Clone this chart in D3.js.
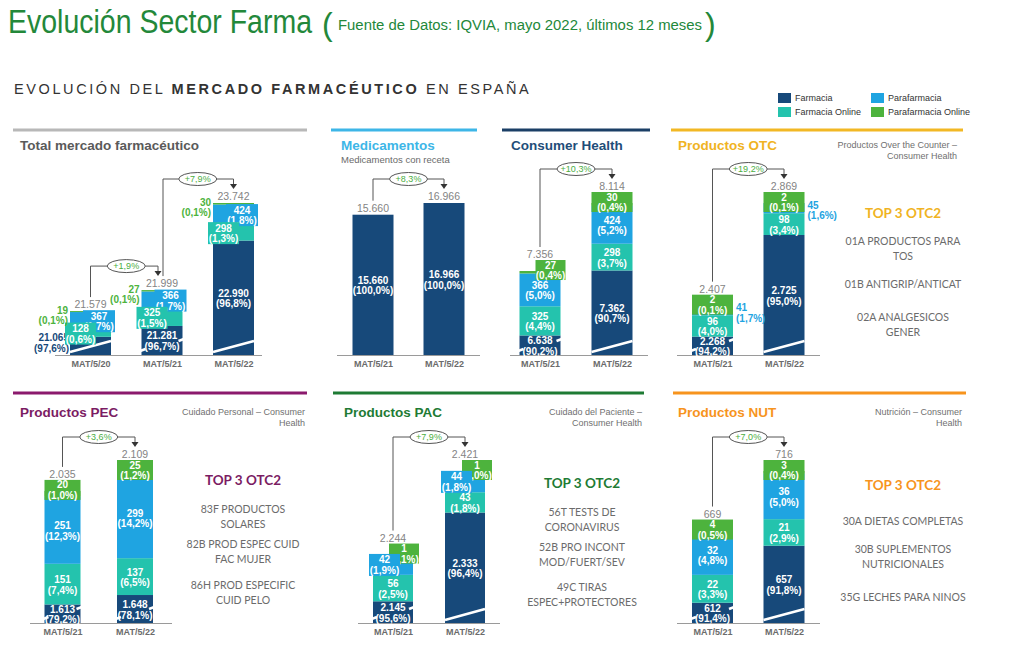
<!DOCTYPE html>
<html><head><meta charset="utf-8">
<script src="https://cdn.jsdelivr.net/npm/d3@7"></script>
<style>
body{margin:0;background:#fff;}
svg{display:block;font-family:"Liberation Sans",Arial,sans-serif;}
</style></head><body><svg id="c" width="1024" height="648"></svg>
<script>
// ---------------- DATA ----------------
const seriesNames = ["Farmacia","Farmacia Online","Parafarmacia","Parafarmacia Online"];

const totalPeriods = ["MAT/5/20","MAT/5/21","MAT/5/22"];
const totalValues = [[21065,21281,22990],[128,325,298],[367,366,424],[19,27,30]];
const totalPcts = [[97.6,96.7,96.8],[0.6,1.5,1.3],[1.7,1.7,1.8],[0.1,0.1,0.1]];
const totalTotals = [21579,21999,23742];
const totalGrowth = ["+1,9%","+7,9%"];

const periods2 = ["MAT/5/21","MAT/5/22"];

const medValues = [[15660,16966],[0,0],[0,0],[0,0]];
const medPcts = [[100.0,100.0],[0,0],[0,0],[0,0]];
const medTotals = [15660,16966];
const medGrowth = ["+8,3%"];

const chValues = [[6638,7362],[325,298],[366,424],[27,30]];
const chPcts = [[90.2,90.7],[4.4,3.7],[5.0,5.2],[0.4,0.4]];
const chTotals = [7356,8114];
const chGrowth = ["+10,3%"];

const otcValues = [[2268,2725],[96,98],[41,45],[2,2]];
const otcPcts = [[94.2,95.0],[4.0,3.4],[1.7,1.6],[0.1,0.1]];
const otcTotals = [2407,2869];
const otcGrowth = ["+19,2%"];

const pecValues = [[1613,1648],[151,137],[251,299],[20,25]];
const pecPcts = [[79.2,78.1],[7.4,6.5],[12.3,14.2],[1.0,1.2]];
const pecTotals = [2035,2109];
const pecGrowth = ["+3,6%"];

const pacValues = [[2145,2333],[56,43],[42,44],[1,1]];
const pacPcts = [[95.6,96.4],[2.5,1.8],[1.9,1.8],[0.1,0.0]];
const pacTotals = [2244,2421];
const pacGrowth = ["+7,9%"];

const nutValues = [[612,657],[22,21],[32,36],[4,3]];
const nutPcts = [[91.4,91.8],[3.3,2.9],[4.8,5.0],[0.5,0.4]];
const nutTotals = [669,716];
const nutGrowth = ["+7,0%"];

// value at which each panel's (broken) axis is cut
const axisBreaks = {total:20700, med:0, ch:6420, otc:2185, pec:1544, pac:2099, nut:596};

const otcTop3 = [["01A PRODUCTOS PARA","TOS"],["01B ANTIGRIP/ANTICAT"],["02A ANALGESICOS","GENER"]];
const pecTop3 = [["83F PRODUCTOS","SOLARES"],["82B PROD ESPEC CUID","FAC MUJER"],["86H PROD ESPECIFIC","CUID PELO"]];
const pacTop3 = [["56T TESTS DE","CORONAVIRUS"],["52B PRO INCONT","MOD/FUERT/SEV"],["49C TIRAS","ESPEC+PROTECTORES"]];
const nutTop3 = [["30A DIETAS COMPLETAS"],["30B SUPLEMENTOS","NUTRICIONALES"],["35G LECHES PARA NINOS"]];

// ---------------- STYLE / LAYOUT ----------------
const seriesColors = ["#17497a","#24c3ad","#1fa4e1","#4db33d"];
const loc = d3.formatLocale({decimal:",", thousands:".", grouping:[3], currency:["","€"]});
const fmtInt = loc.format(",d");
const fmtPct = v => "(" + loc.format(".1f")(v) + "%)";

const panels = [
 {id:"total", title:"Total mercado farmacéutico", periods:totalPeriods, values:totalValues, pcts:totalPcts, totals:totalTotals, growth:totalGrowth,
  cx:[90.5,233.5], base:355, bw:41, axis:[55,262], rule:[13,307,130,"#b8b8b8"], titleXY:[20,145], titleColor:"#5a5a5a",
  modes:["inOrLeft","boxL","boxR","outLeftTop"], boxLdx:-5},
 {id:"med", title:"Medicamentos", periods:periods2, values:medValues, pcts:medPcts, totals:medTotals, growth:medGrowth,
  cx:[373,444], base:355, bw:41, axis:[337,480], rule:[331,477,130,"#3db6e7"], titleXY:[341,145], titleColor:"#3db6e7",
  subLeft:["Medicamentos con receta"], modes:["in","in","in","in"]},
 {id:"ch", title:"Consumer Health", periods:periods2, values:chValues, pcts:chPcts, totals:chTotals, growth:chGrowth,
  cx:[540,612], base:355, bw:41, axis:[510,648], rule:[502,650,130,"#1b3f66"], titleXY:[511,145], titleColor:"#1f4e79",
  modes:["in","in","in","topBox"], topShift:[16,0]},
 {id:"otc", title:"Productos OTC", periods:periods2, values:otcValues, pcts:otcPcts, totals:otcTotals, growth:otcGrowth,
  cx:[712.5,784], base:355, bw:41, axis:[677,820], rule:[671,963,130,"#f2b824"], titleXY:[678,145], titleColor:"#f0b323",
  subRight:["Productos Over the Counter –","Consumer Health"], subXY:[957,145], modes:["in","in","outRight","topBox"], topShift:[0,0]},
 {id:"pec", title:"Productos PEC", periods:periods2, values:pecValues, pcts:pecPcts, totals:pecTotals, growth:pecGrowth,
  cx:[62.5,135], base:623, bw:36, axis:[30,172], rule:[13,307,393,"#8b1a6d"], titleXY:[20,412], titleColor:"#7b1c63",
  subRight:["Cuidado Personal – Consumer","Health"], subXY:[305,412], modes:["in","in","in","topBox"], topShift:[0,0]},
 {id:"pac", title:"Productos PAC", periods:periods2, values:pacValues, pcts:pacPcts, totals:pacTotals, growth:pacGrowth,
  cx:[393,465], base:623, bw:40, axis:[358,500], rule:[333,644,393,"#1e7b34"], titleXY:[344,412], titleColor:"#1e7b34",
  subRight:["Cuidado del Paciente –","Consumer Health"], subXY:[642,412], modes:["in","in","boxL","topBox"], topShift:[16,17], boxLdx:-4},
 {id:"nut", title:"Productos NUT", periods:periods2, values:nutValues, pcts:nutPcts, totals:nutTotals, growth:nutGrowth,
  cx:[712.5,784], base:623, bw:41, axis:[677,820], rule:[673,966,393,"#f7941d"], titleXY:[678,412], titleColor:"#f7941d",
  subRight:["Nutrición – Consumer","Health"], subXY:[962,412], modes:["in","in","in","topBox"], topShift:[0,0]}
];

const top3Lists = [
 {items:otcTop3, cx:903, y:213, color:"#f0b323", ys:[241,284,317]},
 {items:pecTop3, cx:243, y:480, color:"#7b1c63", ys:[509,544,585]},
 {items:pacTop3, cx:582, y:483, color:"#1e7b34", ys:[512,547,587]},
 {items:nutTop3, cx:903, y:485, color:"#f7941d", ys:[521,549,597]}
];

// ---------------- DRAW ----------------
const svg = d3.select("#c");
svg.append("rect").attr("width",1024).attr("height",648).attr("fill","#fff");

const green = "#23883a";
svg.append("text").attr("x",8).attr("y",33).attr("font-size",33).attr("fill",green)
  .attr("textLength",304).attr("lengthAdjust","spacingAndGlyphs").text("Evolución Sector Farma");
svg.append("text").attr("x",322).attr("y",35).attr("font-size",32).attr("fill",green).text("(");
svg.append("text").attr("x",338).attr("y",30).attr("font-size",14).attr("fill",green)
  .attr("textLength",364).attr("lengthAdjust","spacingAndGlyphs").text("Fuente de Datos: IQVIA, mayo 2022, últimos 12 meses");
svg.append("text").attr("x",705).attr("y",35).attr("font-size",32).attr("fill",green).text(")");

const hdr = svg.append("text").attr("x",14).attr("y",89).attr("dominant-baseline","central")
  .attr("font-size",14.5).attr("letter-spacing",2.6).attr("fill","#333");
hdr.append("tspan").text("EVOLUCIÓN DEL ");
hdr.append("tspan").attr("font-weight","bold").text("MERCADO FARMACÉUTICO");
hdr.append("tspan").text(" EN ESPAÑA");

// legend
const legPos = [[778,98],[778,112],[871,98],[871,112]];
seriesNames.forEach((s,k)=>{
  const [lx,ly] = legPos[k];
  svg.append("rect").attr("x",lx).attr("y",ly-5).attr("width",13).attr("height",10).attr("fill",seriesColors[k]);
  svg.append("text").attr("x",lx+17).attr("y",ly).attr("dominant-baseline","central")
    .attr("font-size",9).attr("fill","#333").text(s);
});

const H = 152;
panels.forEach(p=>{
  const g = svg.append("g");
  const bw = p.bw, base = p.base;
  const x = d3.scalePoint().domain(p.periods).range(p.cx);
  const y = d3.scaleLinear().domain([axisBreaks[p.id], d3.max(p.totals)]).range([base, base-H]).clamp(true);
  const rows = p.periods.map((per,i)=>{const r={period:per}; seriesNames.forEach((s,k)=>r[s]=p.values[k][i]); return r;});
  const stacked = d3.stack().keys(seriesNames)(rows);

  // rule + titles
  g.append("line").attr("x1",p.rule[0]).attr("x2",p.rule[1]).attr("y1",p.rule[2]).attr("y2",p.rule[2])
    .attr("stroke",p.rule[3]).attr("stroke-width",3);
  g.append("text").attr("x",p.titleXY[0]).attr("y",p.titleXY[1]).attr("dominant-baseline","central")
    .attr("font-size",13.5).attr("font-weight","bold").attr("fill",p.titleColor).text(p.title);
  if(p.subLeft) g.append("text").attr("x",p.titleXY[0]).attr("y",p.titleXY[1]+14).attr("dominant-baseline","central")
    .attr("font-size",9.5).attr("fill","#6a6a6a").text(p.subLeft[0]);
  if(p.subRight) p.subRight.forEach((t,j)=>g.append("text").attr("x",p.subXY[0]).attr("y",p.subXY[1]+j*11)
    .attr("dominant-baseline","central").attr("text-anchor","end").attr("font-size",9).attr("fill","#707070").text(t));

  // bars
  stacked.forEach((layer,k)=>{
    g.append("g").selectAll("rect").data(layer.filter(d=>d[1]>d[0])).join("rect")
      .attr("x",d=>x(d.data.period)-bw/2).attr("width",bw)
      .attr("y",d=>y(d[1])).attr("height",d=>Math.max(0,y(d[0])-y(d[1])))
      .attr("fill",seriesColors[k]);
  });

  // axis
  g.append("line").attr("x1",p.axis[0]).attr("x2",p.axis[1]).attr("y1",base+0.5).attr("y2",base+0.5)
    .attr("stroke","#9a9a9a").attr("stroke-width",1);
  const ax = g.append("g").attr("transform",`translate(0,${base})`).call(d3.axisBottom(x).tickSize(0).tickPadding(6));
  ax.select(".domain").remove();
  ax.selectAll("text").attr("font-size",9).attr("font-weight","bold").attr("fill","#6b6b6b")
    .attr("font-family","'Liberation Sans',Arial,sans-serif");

  // break marks
  if(axisBreaks[p.id]>0){
    stacked[0].forEach((d,i)=>{
      const cx = x(d.data.period), x0=cx-bw/2, x1=cx+bw/2;
      const h = base - y(d[1]);
      let mode = p.modes[0];
      if(mode==="inOrLeft") mode = h>=24?"in":"outLeft";
      if(mode==="in" && h<32){
        g.append("line").attr("x1",x0-4).attr("y1",base-3).attr("x2",x0+4).attr("y2",base-6)
          .attr("stroke","#fff").attr("stroke-width",2.5);
        g.append("line").attr("x1",x1-4).attr("y1",base-14).attr("x2",x1+4).attr("y2",base-17)
          .attr("stroke","#fff").attr("stroke-width",2.5);
      } else {
        g.append("line").attr("x1",x0).attr("y1",base-3).attr("x2",x1).attr("y2",base-14)
          .attr("stroke","#fff").attr("stroke-width",2.5);
      }
    });
  }

  // labels
  const items = [];
  stacked.forEach((layer,k)=>{
    layer.forEach((d,i)=>{
      const v = p.values[k][i]; if(!v) return;
      const cx = x(d.data.period), x0=cx-bw/2, x1=cx+bw/2;
      const yt=y(d[1]), yb=y(d[0]), mid=(yt+yb)/2, top=y(p.totals[i]);
      const lines=[fmtInt(v), fmtPct(p.pcts[k][i])];
      let mode = p.modes[k];
      if(mode==="inOrLeft") mode = (yb-yt)>=24?"in":"outLeft";
      items.push({mode,k,i,cx,x0,x1,yt,yb,mid,top,lines});
    });
  });
  const order = {in:0,outLeft:1,topBox:2,boxR:3,boxL:4,outRight:5,outLeftTop:6};
  items.sort((a,b)=>order[a.mode]-order[b.mode]);
  const lg = g.append("g").attr("font-weight","bold").attr("font-size",10);
  const twoLines = (cx,cy,lines,fill,anchor)=>{
    lines.forEach((t,j)=>lg.append("text").attr("x",cx).attr("y",cy+(j?5.5:-5)).attr("dominant-baseline","central")
      .attr("text-anchor",anchor||"middle").attr("fill",fill).text(t));
  };
  items.forEach(it=>{
    const col = seriesColors[it.k];
    if(it.mode==="in") twoLines(it.cx,it.mid+0.5,it.lines,"#fff");
    else if(it.mode==="outLeft") twoLines(it.x0-1,it.mid-3,it.lines,col,"end");
    else if(it.mode==="outRight") twoLines(it.x1+3,it.mid+2,it.lines,col,"start");
    else if(it.mode==="outLeftTop") twoLines(it.x0-2,it.top+4,it.lines,col,"end");
    else if(it.mode==="topBox"){
      const sh = p.topShift[it.i];
      const w = sh?30:bw, bx = it.x0+sh;
      lg.append("rect").attr("x",bx).attr("y",it.top-11).attr("width",w).attr("height",20).attr("fill",col);
      twoLines(bx+w/2,it.top-1,it.lines,"#fff");
    } else if(it.mode==="boxR"||it.mode==="boxL"){
      const w = it.mode==="boxR"?32:31;
      const bx = it.mode==="boxR"? it.x1+4-w : it.x0+p.boxLdx;
      const h = Math.max(22, it.yb-it.yt);
      lg.append("rect").attr("x",bx).attr("y",it.mid-h/2).attr("width",w).attr("height",h).attr("fill",col);
      twoLines(bx+w/2,it.mid,it.lines,"#fff");
    }
  });

  // totals above bars + growth brackets
  const hasBox = p.modes[3]==="topBox";
  const labelY = i => y(p.totals[i]) - (hasBox?17:7);
  p.periods.forEach((per,i)=>{
    g.append("text").attr("x",x(per)).attr("y",labelY(i)).attr("dominant-baseline","central")
      .attr("text-anchor","middle").attr("font-size",10.5).attr("fill","#848484").text(fmtInt(p.totals[i]));
  });
  p.growth.forEach((gr,i)=>{
    const lx = x(p.periods[i]) + (i>0?1:0);
    const rx = x(p.periods[i+1]) - (i+1<p.periods.length-1?4:0);
    const topY = labelY(i+1)-17, tip = labelY(i+1)-7;
    g.append("path").attr("d",`M${lx},${labelY(i)-7}V${topY}H${rx}V${tip-4}`)
      .attr("fill","none").attr("stroke","#555").attr("stroke-width",1);
    g.append("path").attr("d",`M${rx-3.5},${tip-5}L${rx+3.5},${tip-5}L${rx},${tip}Z`).attr("fill","#333");
    const ex = (x(p.periods[i])+x(p.periods[i+1]))/2;
    g.append("ellipse").attr("cx",ex).attr("cy",topY).attr("rx",19).attr("ry",6.5)
      .attr("fill","#fff").attr("stroke","#555").attr("stroke-width",1);
    g.append("text").attr("x",ex).attr("y",topY).attr("dominant-baseline","central").attr("text-anchor","middle")
      .attr("font-size",9).attr("fill","#4cae3f").text(gr);
  });
});

// TOP 3 lists
top3Lists.forEach(L=>{
  svg.append("text").attr("x",L.cx).attr("y",L.y).attr("text-anchor","middle").attr("dominant-baseline","central")
    .attr("font-family","Lato,sans-serif").attr("font-weight","bold").attr("font-size",13.5).attr("fill",L.color).text("TOP 3 OTC2");
  L.items.forEach((it,j)=>it.forEach((t,m)=>svg.append("text").attr("x",L.cx).attr("y",L.ys[j]+m*15)
    .attr("text-anchor","middle").attr("dominant-baseline","central").attr("font-family","Lato,sans-serif")
    .attr("font-size",10.5).attr("fill","#6b6b6b").text(t)));
});
</script></body></html>
